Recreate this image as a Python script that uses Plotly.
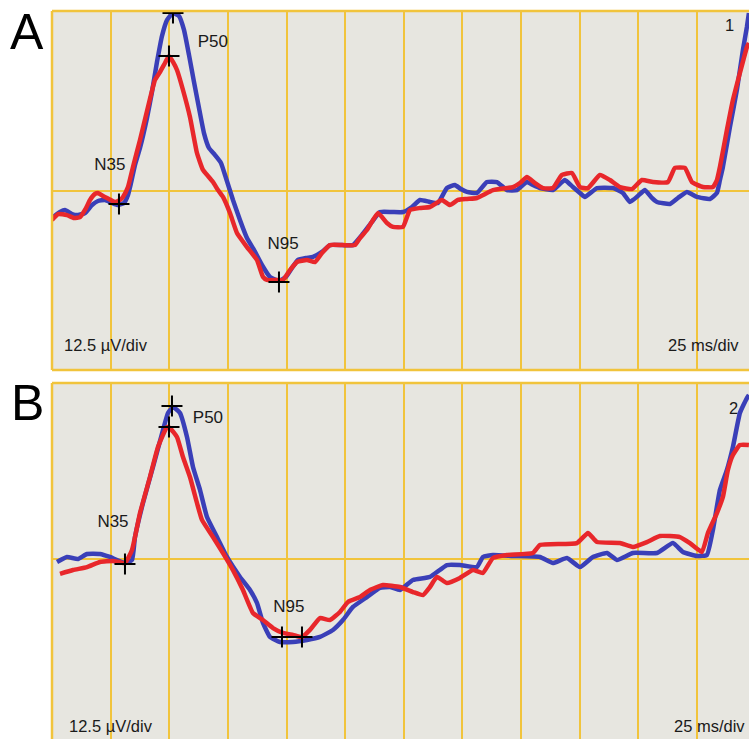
import plotly.graph_objects as go

# ---------------- data (time in ms, amplitude in µV) ----------------
# Panel A
a_blue_t = [0.0, 3.41, 5.54, 8.53, 11.08, 14.07, 17.05, 19.61, 22.60, 25.58, 28.14, 30.70, 32.40, 33.68,
            35.39, 37.52, 40.50, 42.63, 44.77, 46.90, 49.03, 51.59, 54.15, 56.28, 58.41, 60.54, 62.67,
            64.80, 66.94, 69.49, 72.05, 74.18, 77.17, 80.15, 83.14, 86.12, 89.53, 92.94, 96.78, 99.76,
            102.32, 104.88, 108.29, 111.27, 115.11, 118.52, 123.64, 128.33, 132.17, 136.43, 139.84,
            144.96, 149.65, 153.48, 156.89, 161.16, 164.57, 168.40, 171.81, 174.37, 176.93, 181.19,
            185.46, 189.72, 193.98, 198.25, 202.51, 205.07, 208.05, 213.60, 218.71, 222.12, 225.11,
            227.24, 232.36, 239.18, 243.44, 246.42, 249.84, 252.82, 255.80, 257.94, 263.48, 266.89,
            270.73, 274.99, 280.53, 283.52, 284.80, 286.07, 289.06, 292.04, 294.60, 296.31, 297.16]
a_blue_v = [-1.92, -1.50, -1.36, -1.64, -1.71, -1.57, -1.01, -0.73, -0.66, -0.87, -1.01, -0.87, -0.31, 0.52,
            1.78, 2.96, 5.05, 6.86, 8.95, 10.76, 11.87, 12.36, 12.15, 11.18, 9.44, 7.56, 5.75,
            4.00, 2.96, 2.47, 1.92, 0.87, -0.66, -2.05, -3.31, -4.14, -5.19, -6.02, -6.30, -6.02,
            -5.40, -4.84, -4.70, -4.63, -4.28, -3.80, -3.80, -3.80, -3.10, -2.19, -1.50,
            -1.50, -1.50, -1.15, -0.66, -0.80, -0.87, 0.17, 0.38, 0.10, -0.10, -0.17,
            0.59, 0.59, 0.03, 0.03, 0.59, 0.38, 0.17, 0.03, 0.73, 0.24, -0.17,
            -0.45, 0.17, 0.17, -0.17, -0.80, -0.38, 0.03, -0.52, -0.80, -0.94, -0.52,
            -0.10, -0.45, -0.59, -0.17, 0.73, 1.64, 4.42, 7.00, 9.78, 11.39, 12.36]

a_red_t = [0.0, 2.56, 6.39, 9.38, 11.94, 14.50, 16.20, 18.33, 19.61, 21.74, 23.45, 26.86, 28.99, 30.27,
           32.40, 34.53, 37.52, 40.93, 43.92, 46.04, 48.18, 49.88, 51.59, 53.29, 55.85, 58.83, 61.82,
           64.38, 66.51, 68.64, 70.77, 72.90, 75.89, 78.87, 83.14, 87.40, 89.96, 91.66, 95.93, 98.48,
           101.47, 104.45, 108.72, 112.13, 115.11, 118.52, 124.06, 129.18, 131.31, 134.30, 138.99,
           142.82, 145.38, 149.65, 152.63, 156.89, 161.16, 166.27, 169.68, 173.09, 176.93, 181.19,
           188.02, 196.54, 199.53, 202.51, 205.92, 209.33, 213.60, 217.43, 221.70, 225.11, 228.52,
           233.63, 237.90, 242.16, 247.28, 251.54, 256.23, 262.63, 265.61, 269.87, 272.86, 277.55,
           281.81, 283.52, 284.80, 287.78, 290.34, 293.32, 296.31, 297.16]
a_red_v = [-2.05, -1.64, -1.71, -1.92, -1.85, -1.22, -0.66, -0.24, -0.17, -0.38, -0.52, -0.80, -0.66, -0.45,
           0.24, 1.64, 3.52, 5.81, 7.70, 8.25, 8.88, 9.37, 8.95, 8.39, 7.00, 5.12, 2.61,
           1.43, 1.01, 0.59, 0.03, -0.45, -1.57, -2.96, -3.94, -4.84, -6.02, -6.23, -6.23, -6.23,
           -5.54, -4.98, -4.84, -4.98, -4.35, -3.80, -3.80, -3.80, -3.31, -2.75, -1.57,
           -2.26, -2.54, -2.54, -1.36, -1.22, -1.15, -0.66, -1.01, -0.66, -0.59, -0.52,
           0.03, 0.24, 0.52, 0.94, 0.52, 0.17, 0.17, 1.08, 1.22, 0.24, 0.17,
           1.08, 0.73, 0.24, 0.10, 0.73, 0.59, 0.59, 1.57, 1.57, 0.59, 0.24,
           0.24, 0.73, 1.64, 4.21, 6.30, 8.18, 9.99, 10.27]

a_peak_t = [28.56, 51.59, 49.88, 96.78]
a_peak_v = [-0.94, 12.36, 9.37, -6.37]
a_label_text = ["N35", "P50", "N95"]
a_label_t = [24.7, 68.6, 98.5]
a_label_v = [1.70, 10.27, -3.80]

# Panel B
b_blue_t = [2.13, 6.39, 11.08, 14.92, 20.46, 24.73, 31.12, 34.11, 35.39, 38.80, 43.06, 47.33, 49.46,
            51.59, 54.57, 57.56, 60.12, 63.10, 66.09, 70.35, 74.62, 80.16, 84.42, 87.40, 89.96, 92.94,
            97.21, 102.75, 108.72, 114.26, 119.80, 124.06, 128.33, 134.30, 139.84, 144.10, 148.37,
            153.91, 161.16, 168.40, 173.95, 181.19, 183.75, 188.02, 196.54, 208.05, 213.60, 219.57,
            225.11, 230.65, 236.62, 240.88, 247.70, 257.94, 264.76, 269.02, 274.99, 279.25, 281.81,
            284.80, 287.78, 290.34, 293.32, 296.31, 297.16]
b_blue_v = [-0.21, 0.14, 0.00, 0.35, 0.35, 0.14, -0.28, -0.07, 1.53, 3.90, 6.41, 8.98, 10.17,
            10.58, 10.17, 8.50, 6.41, 4.81, 2.92, 1.53, 0.14, -1.25, -2.16, -3.06, -4.46, -5.43,
            -5.78, -5.78, -5.64, -5.43, -4.94, -4.25, -3.34, -2.65, -2.02, -1.95, -2.16,
            -1.46, -1.25, -0.42, -0.42, -0.56, 0.14, 0.28, 0.21, 0.14, -0.28, 0.07,
            -0.56, 0.14, 0.42, -0.07, 0.42, 0.42, 1.11, 0.49, 0.21, 0.28, 2.02,
            4.81, 6.20, 7.80, 10.17, 11.21, 11.42]

b_red_t = [3.41, 8.95, 14.92, 20.46, 26.01, 31.12, 34.11, 37.52, 41.78, 45.19, 49.03, 50.31, 53.29,
           55.85, 58.83, 61.82, 63.95, 68.64, 72.90, 77.17, 81.43, 85.69, 89.96, 94.22, 98.48, 102.75,
           106.59, 110.00, 114.26, 118.52, 122.79, 126.20, 131.31, 135.58, 141.12, 148.37, 153.91,
           158.17, 161.16, 164.14, 168.40, 173.95, 179.49, 183.75, 188.02, 193.98, 205.07, 208.05,
           223.83, 228.52, 232.36, 242.16, 247.70, 253.67, 259.21, 267.74, 272.00, 277.12, 279.68,
           283.52, 286.07, 288.20, 290.34, 293.32, 297.16]
b_red_v = [-1.04, -0.77, -0.56, -0.21, -0.14, -0.28, 0.63, 3.20, 5.71, 7.80, 9.19, 9.12, 8.50,
           7.10, 5.71, 3.90, 2.72, 1.53, 0.42, -0.77, -2.16, -3.76, -4.25, -4.81, -5.15, -5.29,
           -5.43, -4.94, -4.11, -4.25, -3.69, -2.99, -2.65, -2.16, -1.81, -1.95, -2.30,
           -2.51, -1.95, -1.25, -1.67, -1.32, -0.77, -0.97, 0.07, 0.28, 0.42, 0.97,
           1.11, 1.81, 1.18, 1.11, 0.84, 1.18, 1.60, 1.53, 1.11, 0.49, 1.81,
           3.20, 4.32, 6.20, 7.24, 7.94, 7.94]

b_peak_t = [31.12, 51.16, 49.88, 98.06, 106.59]
b_peak_v = [-0.35, 10.65, 9.19, -5.43, -5.43]
b_label_text = ["N35", "P50", "N95"]
b_label_t = [26.0, 66.5, 101.0]
b_label_v = [2.51, 9.75, -3.41]

panel_letters = ["A", "B"]
panel_numbers = ["1", "2"]
scale_v_text = "12.5 µV/div"
scale_t_text = "25 ms/div"

# ---------------- styling ----------------
BG = "#e7e6e0"
GRID = "#f1c43c"
BLUE = "#3a3fb8"
RED = "#e8272b"
FONT = "Liberation Sans, Arial, sans-serif"
TXT = "#1a1a1a"
W, H = 749, 739

fig = go.Figure()

def add_panel(t_b, v_b, t_r, v_r, pk_t, pk_v, lab_t, lab_v, lab_txt, xa, ya):
    fig.add_trace(go.Scatter(x=t_b, y=v_b, mode="lines",
                             line=dict(color=BLUE, width=4.5, shape="spline", smoothing=0.4),
                             xaxis=xa, yaxis=ya, showlegend=False, hoverinfo="skip"))
    fig.add_trace(go.Scatter(x=t_r, y=v_r, mode="lines",
                             line=dict(color=RED, width=4.5, shape="spline", smoothing=0.4),
                             xaxis=xa, yaxis=ya, showlegend=False, hoverinfo="skip"))
    fig.add_trace(go.Scatter(x=pk_t, y=pk_v, mode="markers",
                             marker=dict(symbol="cross-thin", size=15,
                                         line=dict(color="black", width=2)),
                             xaxis=xa, yaxis=ya, showlegend=False, hoverinfo="skip"))
    fig.add_trace(go.Scatter(x=lab_t, y=lab_v, mode="text", text=lab_txt,
                             textfont=dict(family=FONT, size=17, color=TXT),
                             xaxis=xa, yaxis=ya, showlegend=False, hoverinfo="skip"))

add_panel(a_blue_t, a_blue_v, a_red_t, a_red_v, a_peak_t, a_peak_v,
          a_label_t, a_label_v, a_label_text, "x", "y")
add_panel(b_blue_t, b_blue_v, b_red_t, b_red_v, b_peak_t, b_peak_v,
          b_label_t, b_label_v, b_label_text, "x2", "y2")

x_dom = [52 / W, 1.0]
ax_common = dict(range=[0, 297.2], tick0=0, dtick=25, showgrid=True, gridcolor=GRID,
                 gridwidth=2, showticklabels=False, zeroline=False, showline=False,
                 ticks="", fixedrange=True)
ay_common = dict(tickvals=[0], showgrid=True, gridcolor=GRID, gridwidth=2,
                 showticklabels=False, zeroline=False, showline=False, ticks="",
                 fixedrange=True)

fig.update_layout(
    width=W, height=H,
    margin=dict(l=0, r=0, t=0, b=0),
    paper_bgcolor="white", plot_bgcolor=BG,
    xaxis=dict(domain=x_dom, anchor="y", **ax_common),
    yaxis=dict(domain=[1 - 370 / H, 1 - 11 / H], anchor="x", range=[-12.5, 12.5], **ay_common),
    xaxis2=dict(domain=x_dom, anchor="y2", **ax_common),
    yaxis2=dict(domain=[0, 1 - 383 / H], anchor="x2", range=[-12.535, 12.256], **ay_common),
)

# panel frames
shapes = []
for xr, yr, sides in [("x domain", "y domain", ["top", "left", "bottom"]),
                      ("x2 domain", "y2 domain", ["top", "left"])]:
    if "top" in sides:
        shapes.append(dict(type="line", xref=xr, yref=yr, x0=0, x1=1, y0=1, y1=1,
                           line=dict(color=GRID, width=2.5)))
    if "bottom" in sides:
        shapes.append(dict(type="line", xref=xr, yref=yr, x0=0, x1=1, y0=0, y1=0,
                           line=dict(color=GRID, width=2.5)))
    if "left" in sides:
        shapes.append(dict(type="line", xref=xr, yref=yr, x0=0, x1=0, y0=0, y1=1,
                           line=dict(color=GRID, width=2.5)))
fig.update_layout(shapes=shapes)

ann = []
for letter, yc in zip(panel_letters, [32, 403]):
    ann.append(dict(text=letter, xref="paper", yref="paper", x=27 / W, y=1 - yc / H,
                    xanchor="center", yanchor="middle", showarrow=False,
                    font=dict(family=FONT, size=50, color="black")))

ann.append(dict(text=scale_v_text, xref="x domain", yref="y domain", x=0.015, y=(370 - 345) / 359,
                xanchor="left", yanchor="middle", showarrow=False,
                font=dict(family=FONT, size=16.5, color=TXT)))
ann.append(dict(text=scale_t_text, xref="x domain", yref="y domain", x=(741 - 52) / 697, y=(370 - 345) / 359,
                xanchor="right", yanchor="middle", showarrow=False,
                font=dict(family=FONT, size=16.5, color=TXT)))
ann.append(dict(text=panel_numbers[0], xref="x domain", yref="y domain", x=(729 - 52) / 697, y=(370 - 25) / 359,
                xanchor="center", yanchor="middle", showarrow=False,
                font=dict(family=FONT, size=16.5, color=TXT)))
ann.append(dict(text=scale_v_text, xref="x2 domain", yref="y2 domain", x=0.015 + 5 / 697, y=(739 - 726) / 356,
                xanchor="left", yanchor="middle", showarrow=False,
                font=dict(family=FONT, size=16.5, color=TXT)))
ann.append(dict(text=scale_t_text, xref="x2 domain", yref="y2 domain", x=(747 - 52) / 697, y=(739 - 726) / 356,
                xanchor="right", yanchor="middle", showarrow=False,
                font=dict(family=FONT, size=16.5, color=TXT)))
ann.append(dict(text=panel_numbers[1], xref="x2 domain", yref="y2 domain", x=(733 - 52) / 697, y=(739 - 408) / 356,
                xanchor="center", yanchor="middle", showarrow=False,
                font=dict(family=FONT, size=16.5, color=TXT)))
fig.update_layout(annotations=ann)

fig.write_html("out.html")
